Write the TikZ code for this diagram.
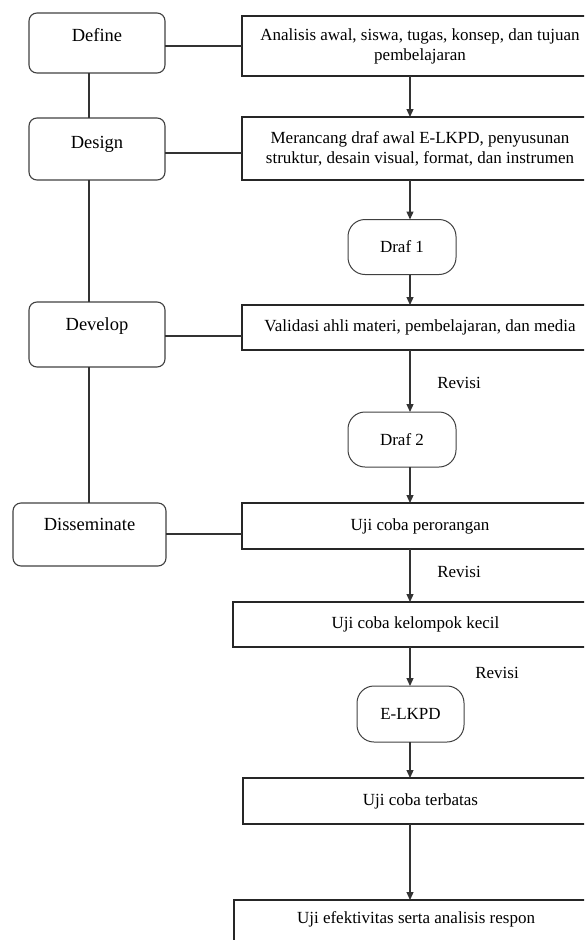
\documentclass[tikz,border=0pt]{standalone}
\usepackage{fontspec}
\setmainfont{Liberation Serif}
\usetikzlibrary{arrows.meta}
\begin{document}
\begin{tikzpicture}[x=1pt,y=-1pt,
  phase/.style={draw=black!75, line width=1.1pt, rounded corners=8pt, inner sep=0pt, outer sep=0pt,
    anchor=north, font=\fontsize{18.5}{20}\selectfont},
  stepbox/.style={draw=black!85, line width=1.1pt, inner sep=0pt, outer sep=0pt, align=center,
    font=\fontsize{17}{20}\selectfont},
  term/.style={draw=black!75, line width=1pt, rounded corners=17pt, inner sep=0pt, outer sep=0pt,
    minimum width=108pt, minimum height=55pt, font=\fontsize{17}{20}\selectfont},
  link/.style={draw=black!80, line width=1.2pt},
  arr/.style={link, -{Triangle[length=8pt,width=7pt]}},
  lbl/.style={font=\fontsize{17}{20}\selectfont, inner sep=0pt}
]
\useasboundingbox (0,0) rectangle (584,940);
\clip (0,0) rectangle (584,940);
\coordinate (ax) at (410,0);
\coordinate (lx) at (89,0);

% phases
\node[phase, minimum width=136pt, text height=28pt, text depth=32pt] (define) at (97,13) {Define};
\node[phase, minimum width=136pt, text height=30pt, text depth=32pt] (design) at (97,118) {Design};
\node[phase, minimum width=136pt, text height=28pt, text depth=37pt] (develop) at (97,302) {Develop};
\node[phase, minimum width=153pt, text height=27pt, text depth=36pt] (dissem) at (89.5,503) {Disseminate};

% steps
\node[stepbox, minimum width=356pt, minimum height=60pt] (box1) at (420,46)
  {Analisis awal, siswa, tugas, konsep, dan tujuan\\pembelajaran};
\node[stepbox, minimum width=356pt, minimum height=63pt] (box2) at (420,148.5)
  {Merancang draf awal E-LKPD, penyusunan\\struktur, desain visual, format, dan instrumen};
\node[term] (draf1) at (402,247) {Draf 1};
\node[stepbox, minimum width=356pt, minimum height=45pt] (valid) at (420,327.5)
  {Validasi ahli materi, pembelajaran, dan media};
\node[term] (draf2) at (402,439.5) {Draf 2};
\node[stepbox, minimum width=356pt, minimum height=46pt] (perorangan) at (420,526)
  {Uji coba perorangan};
\node[stepbox, minimum width=365pt, minimum height=45pt] (kelompok) at (415.5,624.5)
  {Uji coba kelompok kecil};
\node[term, minimum width=107pt, minimum height=56pt] (elkpd) at (410.5,714) {E-LKPD};
\node[stepbox, minimum width=355pt, minimum height=46pt] (terbatas) at (420.5,801)
  {Uji coba terbatas};
\node[stepbox, anchor=north, minimum width=364pt, text height=23pt, text depth=50pt] (efek) at (416,900)
  {Uji efektivitas serta analisis respon};

% revision labels
\node[lbl] (rev1) at (459,383) {Revisi};
\node[lbl] (rev2) at (459,572) {Revisi};
\node[lbl] (rev3) at (497,673) {Revisi};

% phase links
\draw[link] (define.south -| lx) -- (design.north -| lx);
\draw[link] (design.south -| lx) -- (develop.north -| lx);
\draw[link] (develop.south -| lx) -- (dissem.north -| lx);
\draw[link] (define.east |- box1.west) -- (box1.west);
\draw[link] ([yshift=-4pt]design.east) -- ([yshift=-4pt]design.east -| box2.west);
\draw[link] ([yshift=-1.5pt]develop.east) -- ([yshift=-1.5pt]develop.east -| valid.west);
\draw[link] ([yshift=0.5pt]dissem.east) -- ([yshift=0.5pt]dissem.east -| perorangan.west);

% flow arrows
\draw[arr] (box1.south -| ax) -- (box2.north -| ax);
\draw[arr] (box2.south -| ax) -- (draf1.north -| ax);
\draw[arr] (draf1.south -| ax) -- (valid.north -| ax);
\draw[arr] (valid.south -| ax) -- (draf2.north -| ax);
\draw[arr] (draf2.south -| ax) -- (perorangan.north -| ax);
\draw[arr] (perorangan.south -| ax) -- (kelompok.north -| ax);
\draw[arr] (kelompok.south -| ax) -- (elkpd.north -| ax);
\draw[arr] (elkpd.south -| ax) -- (terbatas.north -| ax);
\draw[arr] (terbatas.south -| ax) -- (efek.north -| ax);
\end{tikzpicture}
\end{document}
